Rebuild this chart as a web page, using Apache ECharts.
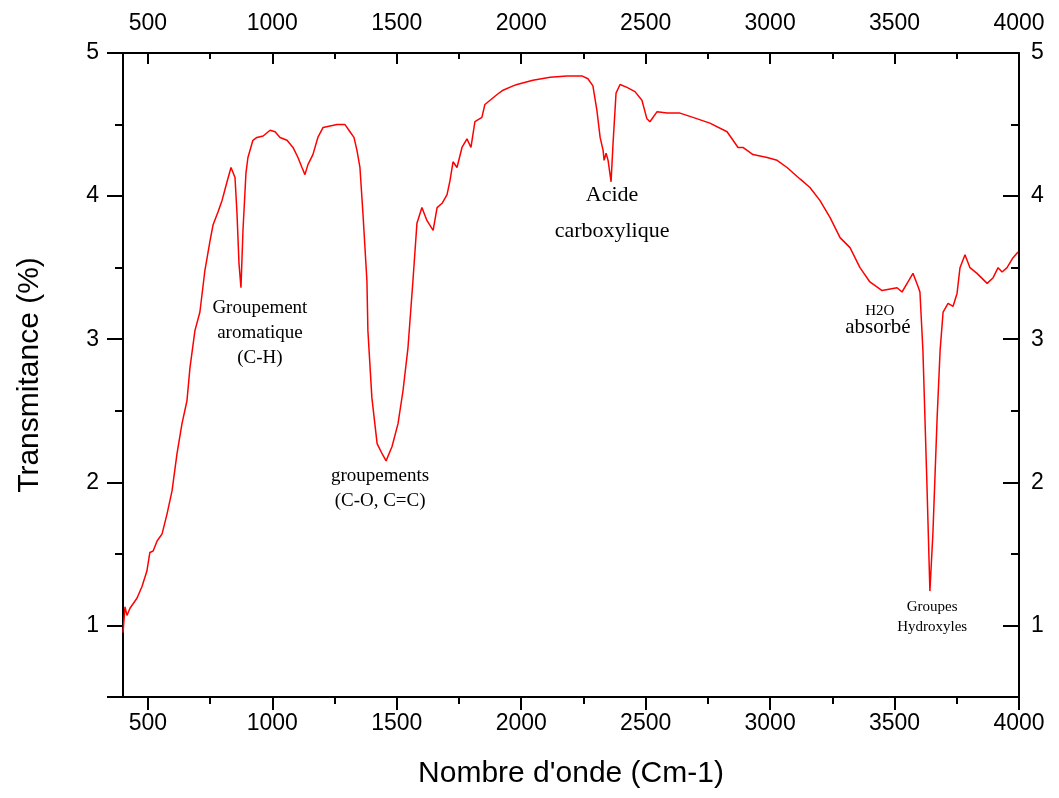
<!DOCTYPE html>
<html>
<head>
<meta charset="utf-8">
<script src="https://cdn.jsdelivr.net/npm/echarts@6/dist/echarts.min.js"></script>
<style>html,body{margin:0;padding:0;background:#fff}#c{width:1059px;height:798px}</style>
</head>
<body>
<div id="c"></div>
<script>
// Wavenumber (cm-1) and transmittance (%)
const wavenumber = [400,408,416,428,456,476,496,508,521,537,557,577,597,617,637,657,669,689,709,729,750,762,782,798,818,834,850,858,866,874,882,894,902,922,938,963,991,1011,1031,1059,1083,1103,1119,1131,1143,1163,1183,1204,1232,1260,1292,1312,1328,1340,1352,1364,1380,1384,1400,1421,1441,1457,1481,1505,1525,1545,1565,1581,1601,1621,1646,1662,1682,1702,1714,1726,1742,1762,1782,1798,1814,1842,1854,1875,1903,1927,1967,1983,2047,2116,2184,2244,2268,2288,2304,2317,2329,2333,2341,2349,2361,2369,2381,2397,2425,2457,2485,2505,2517,2546,2586,2638,2690,2758,2827,2851,2871,2891,2931,2988,3028,3068,3120,3160,3200,3241,3281,3321,3361,3401,3450,3510,3530,3554,3574,3594,3602,3614,3630,3642,3654,3671,3683,3695,3715,3735,3751,3763,3783,3803,3831,3872,3896,3916,3932,3952,3976,3996];
const transmittance = [0.95,1.13,1.07,1.12,1.19,1.27,1.38,1.51,1.52,1.59,1.64,1.78,1.94,2.20,2.41,2.57,2.80,3.06,3.19,3.48,3.69,3.80,3.89,3.97,4.10,4.20,4.13,3.88,3.53,3.36,3.76,4.16,4.27,4.39,4.41,4.42,4.46,4.45,4.41,4.39,4.34,4.27,4.20,4.15,4.22,4.29,4.41,4.48,4.49,4.50,4.50,4.45,4.41,4.32,4.20,3.88,3.41,3.06,2.59,2.27,2.20,2.15,2.25,2.41,2.64,2.94,3.41,3.81,3.92,3.83,3.76,3.92,3.95,4.01,4.11,4.24,4.20,4.34,4.40,4.34,4.52,4.55,4.64,4.67,4.71,4.74,4.77,4.78,4.81,4.83,4.84,4.84,4.82,4.77,4.60,4.41,4.32,4.25,4.30,4.25,4.10,4.37,4.72,4.78,4.76,4.73,4.67,4.54,4.52,4.59,4.58,4.58,4.55,4.51,4.45,4.39,4.34,4.34,4.29,4.27,4.25,4.20,4.12,4.06,3.97,3.85,3.71,3.64,3.50,3.40,3.34,3.36,3.33,3.40,3.46,3.37,3.33,2.92,1.99,1.24,1.64,2.45,2.92,3.19,3.25,3.23,3.32,3.50,3.59,3.50,3.46,3.39,3.43,3.50,3.47,3.50,3.57,3.61];

const xMajorTicks = [500,1000,1500,2000,2500,3000,3500,4000];
const xMinorTicks = [750,1250,1750,2250,2750,3250,3750];
const yMajorTicks = [1,2,3,4,5];
const yMinorTicks = [1.5,2.5,3.5,4.5];

// Annotations
const annoX = [950, 1433, 2365, 3441, 3433, 3651];
const annoY = [3.04, 1.96, 3.88, 3.20, 3.08, 1.06];
const annoText = ['Groupement\naromatique\n(C-H)', 'groupements\n(C-O, C=C)', 'Acide\ncarboxylique', 'H2O', 'absorbé', 'Groupes\nHydroxyles'];
const annoSize = [19, 19, 22, 15, 21, 15];
const annoLH = [25, 25, 36, 18, 24, 20];

const chart = echarts.init(document.getElementById('c'), null, {renderer: 'canvas'});
const black = '#000';
const gridPos = {left: 123, right: 40, top: 53, bottom: 101};
const labelFont = {fontFamily: 'Liberation Sans, Arial, sans-serif', fontSize: 23, color: black};
const plainNum = v => String(v);

function xAxisDef(gridIndex, position, major) {
  const inside = position === 'top';
  return {
    type: 'value', gridIndex, position, min: 400, max: 4000,
    axisLine: {show: major, onZero: false, lineStyle: {color: black, width: 2}},
    axisTick: {show: true, inside, length: major ? (inside ? 11 : 13) : (inside ? 6 : 7),
      customValues: major ? xMajorTicks : xMinorTicks, lineStyle: {color: black, width: 2}},
    axisLabel: major ? Object.assign({show: true, customValues: xMajorTicks, formatter: plainNum, margin: position === 'top' ? 18 : 15}, labelFont) : {show: false},
    splitLine: {show: false}
  };
}
function yAxisDef(gridIndex, position, major) {
  const inside = position === 'right';
  return {
    type: 'value', gridIndex, position, min: 0.5, max: 5,
    axisLine: {show: major, onZero: false, lineStyle: {color: black, width: 2}},
    axisTick: {show: true, inside, length: major ? 16 : 8,
      customValues: major ? (inside ? yMajorTicks : [0.5].concat(yMajorTicks)) : yMinorTicks, lineStyle: {color: black, width: 2}},
    axisLabel: major ? Object.assign({show: true, customValues: yMajorTicks, formatter: plainNum, margin: inside ? 12 : 24}, labelFont) : {show: false},
    splitLine: {show: false}
  };
}

const xa0 = xAxisDef(0, 'bottom', true);
xa0.name = "Nombre d'onde (Cm-1)";
xa0.nameLocation = 'middle';
xa0.nameGap = 62;
xa0.nameTextStyle = {fontFamily: 'Liberation Sans, Arial, sans-serif', fontSize: 30, color: black};
const ya0 = yAxisDef(0, 'left', true);
ya0.name = 'Transmitance (%)';
ya0.nameLocation = 'middle';
ya0.nameGap = 78;
ya0.nameTextStyle = {fontFamily: 'Liberation Sans, Arial, sans-serif', fontSize: 30, color: black};

const annoData = annoX.map((x, i) => ({
  value: [x, annoY[i]],
  label: {
    show: true, position: 'inside', formatter: annoText[i],
    fontFamily: 'Liberation Serif, Times New Roman, serif', fontSize: annoSize[i], lineHeight: annoLH[i],
    color: '#000', opacity: 1, align: 'center', verticalAlign: 'middle'
  }
}));

chart.setOption({
  animation: false,
  backgroundColor: '#fff',
  grid: [Object.assign({}, gridPos), Object.assign({}, gridPos)],
  xAxis: [xa0, xAxisDef(0, 'top', true), xAxisDef(1, 'bottom', false), xAxisDef(1, 'top', false)],
  yAxis: [ya0, yAxisDef(0, 'right', true), yAxisDef(1, 'left', false), yAxisDef(1, 'right', false)],
  series: [
    {
      type: 'line', xAxisIndex: 0, yAxisIndex: 0,
      data: wavenumber.map((w, i) => [w, transmittance[i]]),
      showSymbol: false, symbol: 'none', smooth: false,
      lineStyle: {color: '#ff0000', width: 1.5}
    },
    {
      type: 'scatter', xAxisIndex: 0, yAxisIndex: 0,
      symbolSize: 0, itemStyle: {color: '#000', opacity: 1},
      data: annoData, silent: true, z: 5
    }
  ]
});
</script>
</body>
</html>
